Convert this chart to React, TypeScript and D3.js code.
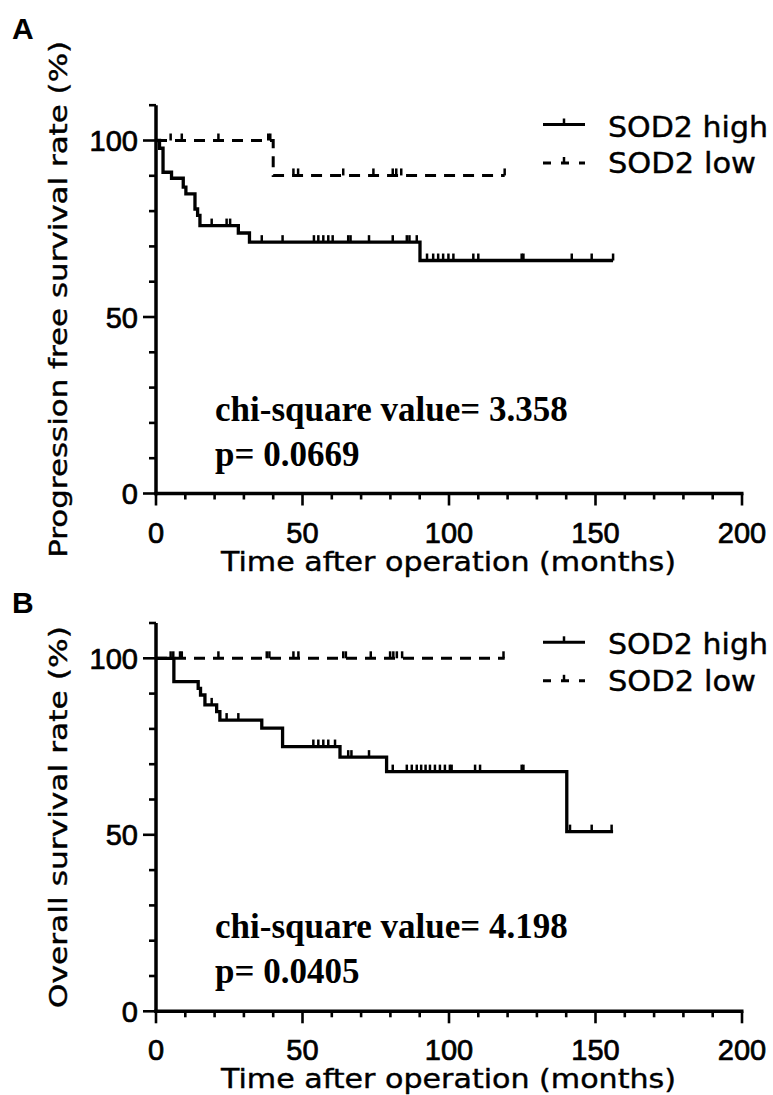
import * as d3 from "d3";

// Panel A: progression free survival
const pfsHighTimes = [0, 1.2, 2.4, 5.3, 9.3, 10.2, 13.3, 14.2, 15.0, 28.1, 31.9, 90.1];
const pfsHighSurv = [100, 97.8, 91.0, 89.3, 86.8, 84.9, 80.6, 78.8, 75.9, 73.8, 71.2, 66.0];
const pfsHighEnd = 156;
const pfsHighCensor = [19.0, 24.1, 25.3, 36.1, 43.2, 53.9, 55.4, 57.1, 58.8, 60.3, 65.6, 66.4, 72.7, 80.8, 85.6, 86.5, 89.0, 92.5, 94.6, 96.3, 98.0, 99.8, 101.5, 108.3, 110.0, 124.8, 125.4, 141.9, 148.7, 156.0];

const pfsLowTimes = [0, 40.0];
const pfsLowSurv = [100, 90.1];
const pfsLowEnd = 119;
const pfsLowCensor = [5.0, 8.8, 21.3, 38.3, 39.0, 46.9, 48.5, 63.9, 74.2, 80.8, 82.0, 83.7, 119.0];

// Panel B: overall survival
const osHighTimes = [0, 6.1, 14.4, 15.2, 16.7, 20.7, 21.8, 36.1, 43.2, 62.8, 78.7, 140.2];
const osHighSurv = [100, 93.4, 91.5, 89.6, 86.8, 84.9, 82.5, 80.2, 75.0, 72.0, 67.9, 50.9];
const osHighEnd = 156;
const osHighCensor = [19.0, 24.1, 28.1, 53.7, 55.4, 57.1, 58.8, 61.1, 65.6, 66.7, 72.7, 80.8, 85.6, 87.3, 89.0, 90.5, 92.0, 93.5, 95.2, 96.9, 98.6, 100.3, 100.9, 108.9, 110.6, 124.8, 125.4, 141.3, 148.7, 155.5];

const osLowTimes = [0];
const osLowSurv = [100];
const osLowEnd = 119;
const osLowCensor = [5.0, 5.9, 8.2, 8.8, 21.3, 37.8, 38.7, 46.9, 48.6, 63.9, 64.8, 73.3, 79.9, 81.0, 82.2, 84.0, 118.6];

const xTicks = d3.range(0, 201, 10);
const yTicks = d3.range(0, 111, 10);
const seriesNames = ["SOD2 high", "SOD2 low"];

const TITLE_FONT = "'DejaVu Sans', sans-serif";
const TICK_FONT = "'Liberation Sans', Arial, sans-serif";
const SERIF = "'Liberation Serif', 'Times New Roman', serif";

type Curve = { times: number[]; surv: number[]; end: number; censor: number[] };

const x = d3.scaleLinear().domain([0, 200]).range([156, 742]);

function survAt(c: Curve, t: number) {
  let s = c.surv[0];
  c.times.forEach((tt, i) => {
    if (tt <= t) s = c.surv[i];
  });
  return s;
}

const Panel = ({
  y0,
  letter,
  letterY,
  yTitle,
  yTitleLen,
  high,
  low,
  chi,
  p,
}: {
  y0: number;
  letter: string;
  letterY: number;
  yTitle: string;
  yTitleLen: number;
  high: Curve;
  low: Curve;
  chi: string;
  p: string;
}) => {
  const y = d3.scaleLinear().domain([0, 110]).range([y0, y0 - 388.3]);
  const line = d3
    .line<[number, number]>()
    .x((d) => x(d[0]))
    .y((d) => y(d[1]))
    .curve(d3.curveStepAfter);

  const pts = (c: Curve): [number, number][] => [
    ...c.times.map((t, i) => [t, c.surv[i]] as [number, number]),
    [c.end, c.surv[c.surv.length - 1]],
  ];

  const censorMarks = (c: Curve, key: string) =>
    c.censor.map((t, i) => {
      const cx = x(t);
      const cy = y(survAt(c, t));
      return <line key={key + i} x1={cx} x2={cx} y1={cy} y2={cy - 7} stroke="#000" strokeWidth={2.5} />;
    });

  const y100 = y(100);
  const yMid = (y(0) + y(110)) / 2;

  return (
    <g>
      <text x={12} y={letterY} fontFamily={TICK_FONT} fontWeight="bold" fontSize={30}>
        {letter}
      </text>

      {/* curves */}
      <path d={line(pts(low)) ?? ""} fill="none" stroke="#000" strokeWidth={3} strokeDasharray="11 8" />
      {censorMarks(low, "l")}
      <path d={line(pts(high)) ?? ""} fill="none" stroke="#000" strokeWidth={3.3} />
      {censorMarks(high, "h")}

      {/* y axis */}
      <line x1={x(0)} x2={x(0)} y1={y(0) + 1.7} y2={y(110)} stroke="#000" strokeWidth={3.5} />
      {yTicks.map((v) => (
        <line
          key={"yt" + v}
          x1={x(0)}
          x2={x(0) - (v % 50 === 0 ? 13 : 7)}
          y1={y(v)}
          y2={y(v)}
          stroke="#000"
          strokeWidth={2.6}
        />
      ))}
      {yTicks
        .filter((v) => v % 50 === 0)
        .map((v) => (
          <text
            key={"yl" + v}
            x={138}
            y={y(v) + 10.5}
            textAnchor="end"
            fontFamily={TICK_FONT}
            fontSize={29}
            stroke="#000"
            strokeWidth={0.7}
          >
            {v}
          </text>
        ))}

      {/* x axis */}
      <line x1={x(0) - 1.7} x2={x(200) + 1.5} y1={y(0)} y2={y(0)} stroke="#000" strokeWidth={3.5} />
      {xTicks.map((v) => (
        <line
          key={"xt" + v}
          x1={x(v)}
          x2={x(v)}
          y1={y(0)}
          y2={y(0) + (v % 50 === 0 ? 12 : 6)}
          stroke="#000"
          strokeWidth={2.6}
        />
      ))}
      {xTicks
        .filter((v) => v % 50 === 0)
        .map((v) => (
          <text
            key={"xl" + v}
            x={x(v)}
            y={y(0) + 49}
            textAnchor="middle"
            fontFamily={TICK_FONT}
            fontSize={29}
            stroke="#000"
            strokeWidth={0.7}
          >
            {v}
          </text>
        ))}

      <text
        x={221}
        y={y(0) + 77}
        fontFamily={TITLE_FONT}
        fontSize={26}
        textLength={455}
        lengthAdjust="spacingAndGlyphs"
        stroke="#000"
        strokeWidth={0.4}
      >
        Time after operation (months)
      </text>
      <text
        transform={`translate(67,${yMid + yTitleLen / 2}) rotate(-90)`}
        fontFamily={TITLE_FONT}
        fontSize={25.5}
        textLength={yTitleLen}
        lengthAdjust="spacingAndGlyphs"
        stroke="#000"
        strokeWidth={0.4}
      >
        {yTitle}
      </text>

      {/* legend */}
      <line x1={543} x2={585} y1={y100 - 16} y2={y100 - 16} stroke="#000" strokeWidth={3} />
      <line x1={564} x2={564} y1={y100 - 16} y2={y100 - 22} stroke="#000" strokeWidth={2.5} />
      <text
        x={608}
        y={y100 - 4}
        fontFamily={TITLE_FONT}
        fontSize={27.5}
        textLength={160}
        lengthAdjust="spacingAndGlyphs"
        stroke="#000"
        strokeWidth={0.4}
      >
        {seriesNames[0]}
      </text>
      <line
        x1={543}
        x2={585}
        y1={y100 + 22.5}
        y2={y100 + 22.5}
        stroke="#000"
        strokeWidth={3}
        strokeDasharray="8 10"
      />
      <line x1={564} x2={564} y1={y100 + 22.5} y2={y100 + 16.5} stroke="#000" strokeWidth={2.5} />
      <text
        x={608}
        y={y100 + 32.5}
        fontFamily={TITLE_FONT}
        fontSize={27.5}
        textLength={148}
        lengthAdjust="spacingAndGlyphs"
        stroke="#000"
        strokeWidth={0.4}
      >
        {seriesNames[1]}
      </text>

      {/* statistics */}
      <text x={215} y={y(0) - 73} fontFamily={SERIF} fontWeight="bold" fontSize={35}>
        {chi}
      </text>
      <text x={215} y={y(0) - 28} fontFamily={SERIF} fontWeight="bold" fontSize={35}>
        {p}
      </text>
    </g>
  );
};

export default function App() {
  return (
    <svg
      width={773}
      height={1095}
      style={{ position: "absolute", left: 0, top: 0, background: "#fff" }}
    >
      <rect width={773} height={1095} fill="#fff" />
      <Panel
        y0={493.5}
        letter="A"
        letterY={39}
        yTitle="Progression free survival rate (%)"
        yTitleLen={517}
        high={{ times: pfsHighTimes, surv: pfsHighSurv, end: pfsHighEnd, censor: pfsHighCensor }}
        low={{ times: pfsLowTimes, surv: pfsLowSurv, end: pfsLowEnd, censor: pfsLowCensor }}
        chi="chi-square value= 3.358"
        p="p= 0.0669"
      />
      <Panel
        y0={1011.3}
        letter="B"
        letterY={613}
        yTitle="Overall survival rate (%)"
        yTitleLen={382}
        high={{ times: osHighTimes, surv: osHighSurv, end: osHighEnd, censor: osHighCensor }}
        low={{ times: osLowTimes, surv: osLowSurv, end: osLowEnd, censor: osLowCensor }}
        chi="chi-square value= 4.198"
        p="p= 0.0405"
      />
    </svg>
  );
}
